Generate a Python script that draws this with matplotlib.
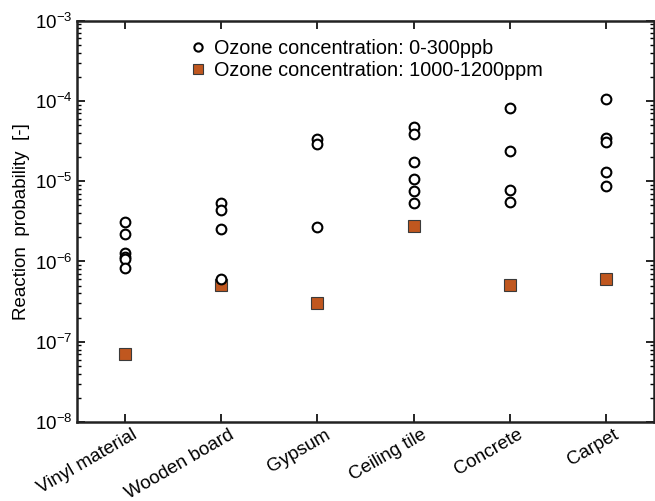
import numpy as np
import matplotlib.pyplot as plt
import matplotlib.transforms as mtransforms

plt.rcParams['font.family'] = ['Liberation Sans', 'DejaVu Sans']

materials = ['Vinyl material', 'Wooden board', 'Gypsum', 'Ceiling tile', 'Concrete', 'Carpet']

# low ozone (0-300 ppb) measurements, per material
low_vinyl = [3.08e-6, 2.21e-6, 1.27e-6, 1.15e-6, 1.07e-6, 8.3e-7]
low_wood = [5.3e-6, 4.4e-6, 2.52e-6, 6.0e-7]
low_gypsum = [3.37e-5, 2.89e-5, 2.67e-6]
low_ceiling = [4.8e-5, 3.88e-5, 1.75e-5, 1.06e-5, 7.57e-6, 5.4e-6]
low_concrete = [8.18e-5, 2.37e-5, 7.8e-6, 5.57e-6]
low_carpet = [1.06e-4, 3.44e-5, 3.11e-5, 1.31e-5, 8.75e-6]
low_all = [low_vinyl, low_wood, low_gypsum, low_ceiling, low_concrete, low_carpet]

# high ozone (1000-1200 ppm)
high = [7.1e-8, 5.07e-7, 3.08e-7, 2.8e-6, 5.16e-7, 6.1e-7]

fig = plt.figure(figsize=(6.55, 5.01), dpi=100)
ax = fig.add_axes([0.1176, 0.1577, 0.881, 0.801])

xs = np.concatenate([[i] * len(v) for i, v in enumerate(low_all)])
ys = np.concatenate(low_all)
ax.plot(xs, ys, 'o', ms=7, mfc='white', mec='black', mew=1.5, ls='none',
        label='Ozone concentration: 0-300ppb', zorder=3)
ax.plot(np.arange(len(high)), high, 's', ms=9, mfc='#C0571F', mec='#3a3a3a', mew=0.8,
        ls='none', label='Ozone concentration: 1000-1200ppm', zorder=2)

ax.set_yscale('log')
ax.set_ylim(1e-8, 1e-3)
ax.set_xlim(-0.5, 5.5)
ax.set_xticks(range(len(materials)))
ax.set_xticklabels(materials, rotation=30, ha='right', rotation_mode='anchor', fontsize=13.5)
ax.set_ylabel('Reaction  probability  [-]', fontsize=13.5, labelpad=3)

ax.tick_params(which='both', direction='in', top=True, right=True, labelsize=13.5)
ax.tick_params(axis='x', pad=3)
ax.tick_params(which='major', length=6, width=1.2)
ax.tick_params(which='minor', length=3, width=1.0)
ax.tick_params(axis='x', which='minor', top=False, bottom=False)
for s in ax.spines.values():
    s.set_linewidth(1.8)
    s.set_color('#222222')

# nudge rotated labels a bit to the right, like the original
offset = mtransforms.ScaledTranslation(5 / 72, 0, fig.dpi_scale_trans)
for lbl in ax.get_xticklabels():
    lbl.set_transform(lbl.get_transform() + offset)

ax.legend(loc='upper left', bbox_to_anchor=(0.168, 0.99), frameon=False, fontsize=14.3,
          handletextpad=0.3, labelspacing=0.15, borderpad=0.2, handlelength=1.0,
          markerscale=0.85)

fig.savefig('out.png', dpi=100)
